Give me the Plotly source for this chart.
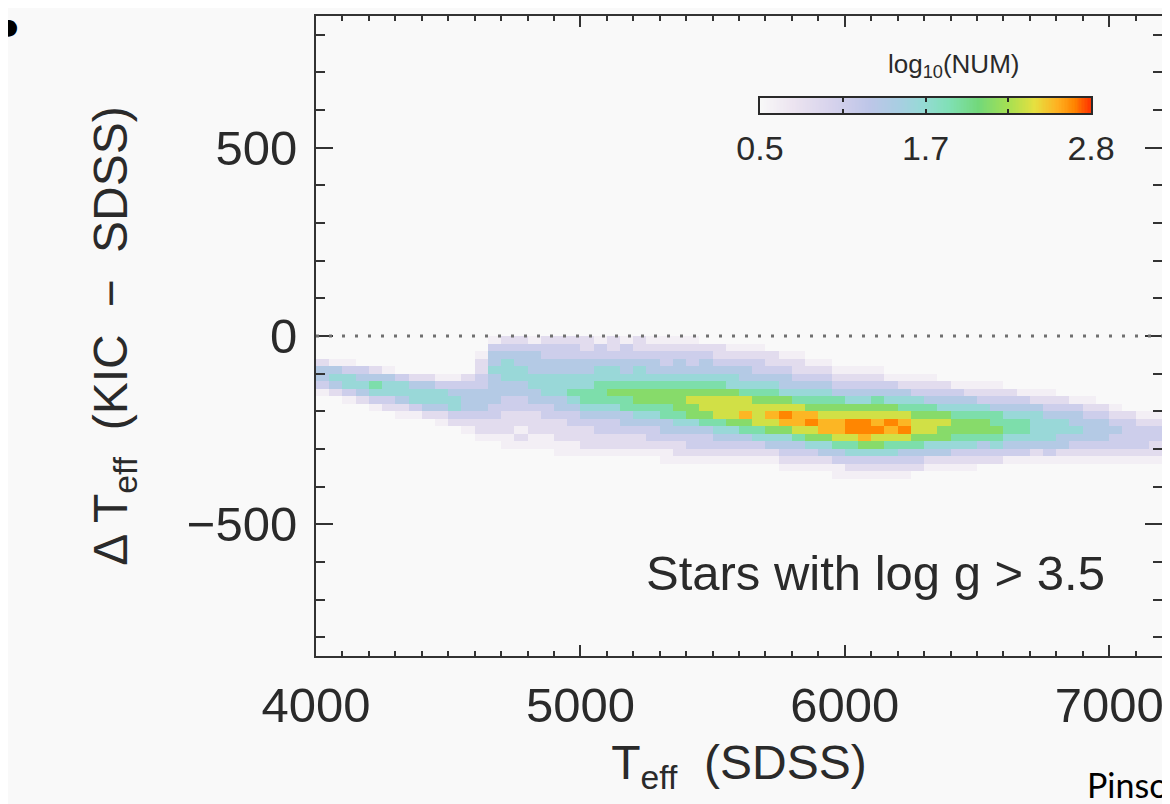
import numpy as np
import plotly.graph_objects as go

# ---------------- data ----------------
# 2-D histogram: bin centres in Teff (SDSS) and in Delta Teff (KIC - SDSS)
teff_bins = list(range(4025, 7200, 50))          # 64 columns
dteff_bins = list(range(10, -400, -20))          # 21 rows (+10 ... -390)

# colour level code -> log10(NUM)
level_values = {"0": None, "1": 0.6, "2": 0.85, "3": 1.1, "4": 1.35, "5": 1.6,
                "6": 1.85, "7": 2.1, "8": 2.35, "9": 2.55, "a": 2.68}

# one string per Teff column, characters run from dTeff=+10 down to -390
columns = [
    "000024431000000000000",  # 4025
    "000014542000000000000",  # 4075
    "000013553100000000000",  # 4125
    "000003454200000000000",  # 4175
    "000002465310000000000",  # 4225
    "000001455320000000000",  # 4275
    "000000355421000000000",  # 4325
    "000000245531000000000",  # 4375
    "000000245542000000000",  # 4425
    "000000135542100000000",  # 4475
    "000000134553200000000",  # 4525
    "000000234443210000000",  # 4575
    "000122334443221000000",  # 4625
    "013445444433221000000",  # 4675
    "023455544332221100000",  # 4725
    "023445544332212100000",  # 4775
    "013444554432221100000",  # 4825
    "023344555433221100000",  # 4875
    "023344555443222110000",  # 4925
    "023344556543322110000",  # 4975
    "022344556654322210000",  # 5025
    "013345566654332210000",  # 5075
    "022345567654332210000",  # 5125
    "013344567664432210000",  # 5175
    "022345567765432210000",  # 5225
    "012344567765433210000",  # 5275
    "012334567766443211000",  # 5325
    "012344567776543221000",  # 5375
    "012334567877543321000",  # 5425
    "002344567887643321000",  # 5475
    "002234567888654321000",  # 5525
    "001234557888754321000",  # 5575
    "001234456889764321000",  # 5625
    "001233456788865321000",  # 5675
    "000223456789875421000",  # 5725
    "00012344578a975432100",  # 5775
    "000122345689986432100",  # 5825
    "000012345679a87532100",  # 5875
    "000012345678997542100",  # 5925
    "000001234678998643110",  # 5975
    "000001234578aa8653210",  # 6025
    "000001234578aa9753210",  # 6075
    "0000012346789a8753210",  # 6125
    "000000134578a98653210",  # 6175
    "0000001245689a8643210",  # 6225
    "000000123567887643200",  # 6275
    "000000123467887542100",  # 6325
    "000000023457877542100",  # 6375
    "000000013456776532100",  # 6425
    "000000012456776532100",  # 6475
    "000000012356776432000",  # 6525
    "000000012346676532000",  # 6575
    "000000002345665431000",  # 6625
    "000000001345665431000",  # 6675
    "000000001245555421000",  # 6725
    "000000001234555431000",  # 6775
    "000000000234554421000",  # 6825
    "000000000134454321000",  # 6875
    "000000000123444321000",  # 6925
    "000000000023444321000",  # 6975
    "000000000012343321000",  # 7025
    "000000000002333321000",  # 7075
    "000000000001233321000",  # 7125
    "000000000001233221000",  # 7175
]

x_ticks = [4000, 5000, 6000, 7000]
y_ticks = [-500, 0, 500]
y_ticktext = ["\u2212500", "0", "500"]
cbar_min, cbar_max = 0.5, 2.8
cbar_tickvals = [0.5, 1.65, 2.8]
cbar_ticktext = ["0.5", "1.7", "2.8"]
cbar_minor_ticks = [1.075, 2.225]

# ---------------- build grid ----------------
z = [[level_values[col[i]] for col in columns] for i in range(len(dteff_bins))]

colorscale = [
    [0.00, "#f8f8f8"],
    [0.10, "#ece4f0"],
    [0.22, "#d6d2ec"],
    [0.33, "#bec6e8"],
    [0.42, "#a8cee2"],
    [0.49, "#96dad6"],
    [0.57, "#80e0b6"],
    [0.66, "#72d87a"],
    [0.75, "#a6e052"],
    [0.83, "#e6e040"],
    [0.90, "#ffb020"],
    [0.95, "#ff8400"],
    [1.00, "#ff3000"],
]

FONT = "Liberation Sans"
AX = "#333333"
TXT = "#2a2a2a"
BG = "#f9f9f9"

fig = go.Figure()
fig.add_trace(go.Heatmap(x=teff_bins, y=dteff_bins, z=z, coloraxis="coloraxis",
                         hoverongaps=False))

# colour bar drawn as a small gradient heatmap on its own axes
cb_edges = np.linspace(cbar_min, cbar_max, 231)
cb_mid = (cb_edges[:-1] + cb_edges[1:]) / 2
fig.add_trace(go.Heatmap(x=cb_edges, y=[0, 1], z=[cb_mid], coloraxis="coloraxis",
                         xaxis="x2", yaxis="y2", hoverinfo="skip"))

fig.add_hline(y=0, line=dict(color="#707070", width=3, dash="3px,10px"), layer="above")

fig.update_layout(
    width=1170, height=804,
    margin=dict(l=308, r=16, t=8, b=156, autoexpand=False),
    paper_bgcolor=BG, plot_bgcolor=BG,
    showlegend=False,
    coloraxis=dict(colorscale=colorscale, cmin=cbar_min, cmax=cbar_max, showscale=False),
    font=dict(family=FONT, color=TXT),
    xaxis=dict(
        range=[4000, 7200], tickvals=x_ticks, ticks="inside", ticklen=11, tickwidth=2,
        tickcolor=AX, showline=True, linecolor=AX, linewidth=2, mirror="allticks",
        showgrid=False, zeroline=False, automargin=False,
        minor=dict(ticks="inside", ticklen=5, tickwidth=2, tickcolor=AX, tick0=4000, dtick=100, showgrid=False),
        tickfont=dict(size=49, family=FONT, color=TXT), ticklabelstandoff=5,
        title=dict(text="T<sub>eff</sub>  (SDSS)", font=dict(size=48, family=FONT, color=TXT), standoff=15),
    ),
    yaxis=dict(
        range=[-850, 850], tickvals=y_ticks, ticktext=y_ticktext, ticks="inside", ticklen=17,
        tickwidth=2, tickcolor=AX, showline=True, linecolor=AX, linewidth=2, mirror="allticks",
        showgrid=False, zeroline=False, automargin=False,
        minor=dict(ticks="inside", ticklen=9, tickwidth=2, tickcolor=AX, tick0=0, dtick=100, showgrid=False),
        tickfont=dict(size=49, family=FONT, color=TXT), ticklabelstandoff=7,
        title=dict(text="\u0394 T<sub>eff</sub>  (KIC  \u2212  SDSS)", font=dict(size=48, family=FONT, color=TXT), standoff=44),
    ),
    xaxis2=dict(
        domain=[0.5248, 0.9161], anchor="y2", range=[cbar_min, cbar_max],
        tickvals=cbar_tickvals, ticktext=cbar_ticktext, ticks="inside", ticklen=4, tickwidth=1.5,
        tickcolor=TXT, showline=True, linecolor=TXT, linewidth=1.5, mirror="allticks",
        showgrid=False, zeroline=False, automargin=False,
        minor=dict(tickvals=cbar_minor_ticks, ticks="inside", ticklen=4, tickwidth=1.5, tickcolor=TXT, showgrid=False),
        tickfont=dict(size=34, family=FONT, color=TXT), ticklabelstandoff=4,
    ),
    yaxis2=dict(
        domain=[0.8484, 0.8719], anchor="x2", range=[0, 1], showline=True, linecolor=TXT,
        linewidth=1.5, mirror=True, showticklabels=False, ticks="", showgrid=False,
        zeroline=False, automargin=False,
    ),
    annotations=[
        dict(text="log<sub>10</sub>(NUM)", xref="paper", yref="paper", x=0.753, y=0.923,
             xanchor="center", yanchor="middle", showarrow=False,
             font=dict(size=26, family=FONT, color=TXT)),
        dict(text="Stars with log g > 3.5", xref="paper", yref="paper", x=0.935, y=0.13,
             xanchor="right", yanchor="middle", showarrow=False,
             font=dict(size=49, family=FONT, color=TXT)),
        dict(text="Pinsonneault et al. (2012)", xref="paper", yref="paper", x=0.909, y=-0.2,
             xanchor="left", yanchor="middle", showarrow=False,
             font=dict(size=34, family="Lato", color="#000000")),
        dict(text="\u25cf", xref="paper", yref="paper", x=-0.364, y=0.983,
             xanchor="center", yanchor="middle", showarrow=False,
             font=dict(size=22, family="DejaVu Sans", color="#000000")),
    ],
)

fig.write_html("out.html")
